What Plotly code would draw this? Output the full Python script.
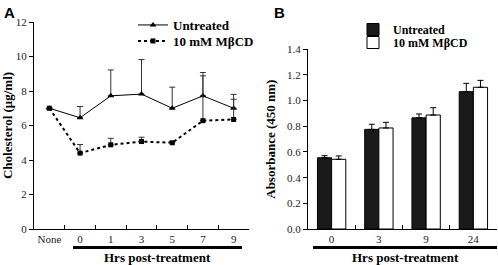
import plotly.graph_objects as go

# Panel A data
cats_a = ["None", "0", "1", "3", "5", "7", "9"]
untreated_a = [7.0, 6.45, 7.72, 7.82, 7.0, 7.72, 7.0]
untreated_a_err = [0, 0.65, 1.5, 2.0, 1.22, 1.35, 0.8]
mbcd_a = [7.0, 4.4, 4.88, 5.07, 5.0, 6.28, 6.35]
mbcd_a_err = [0, 0.5, 0.38, 0.25, 0.05, 2.6, 1.17]

# Panel B data
cats_b = ["0", "3", "9", "24"]
untreated_b = [0.555, 0.776, 0.866, 1.07]
untreated_b_err = [0.016, 0.04, 0.03, 0.065]
mbcd_b = [0.543, 0.787, 0.888, 1.104]
mbcd_b_err = [0.026, 0.044, 0.057, 0.054]

yticks_a = [0, 2, 4, 6, 8, 10, 12]
yticks_b = [0.0, 0.2, 0.4, 0.6, 0.8, 1.0, 1.2, 1.4]

serif = "Liberation Serif, Times New Roman, serif"
W, H = 498, 265

fig = go.Figure()

fig.add_trace(go.Scatter(
    x=cats_a, y=untreated_a, name="Untreated", mode="lines+markers",
    line=dict(color="black", width=1),
    marker=dict(symbol="triangle-up", size=6, color="black"),
    error_y=dict(type="data", array=untreated_a_err, arrayminus=[0]*7, symmetric=False,
                 color="#333", thickness=1, width=3),
    xaxis="x", yaxis="y", legend="legend"))
fig.add_trace(go.Scatter(
    x=cats_a, y=mbcd_a, name="10 mM M\u03b2CD", mode="lines+markers",
    line=dict(color="black", width=2, dash="dot"),
    marker=dict(symbol="square", size=5, color="black"),
    error_y=dict(type="data", array=mbcd_a_err, arrayminus=[0]*7, symmetric=False,
                 color="#333", thickness=1, width=3),
    xaxis="x", yaxis="y", legend="legend2"))

fig.add_trace(go.Bar(
    x=cats_b, y=untreated_b, name="Untreated",
    marker=dict(color="#1a1a1a", line=dict(color="black", width=1)),
    error_y=dict(type="data", array=untreated_b_err, arrayminus=[0]*4, symmetric=False,
                 color="black", thickness=1, width=3),
    xaxis="x2", yaxis="y2", legend="legend3"))
fig.add_trace(go.Bar(
    x=cats_b, y=mbcd_b, name="10 mM M\u03b2CD",
    marker=dict(color="white", line=dict(color="black", width=1)),
    error_y=dict(type="data", array=mbcd_b_err, arrayminus=[0]*4, symmetric=False,
                 color="black", thickness=1, width=3),
    xaxis="x2", yaxis="y2", legend="legend4"))

def px_x(p):
    return p / W

def px_y(p):
    return 1 - p / H

axis_common = dict(showline=True, linecolor="black", linewidth=1, showgrid=False,
                   zeroline=False, automargin=False,
                   tickfont=dict(family=serif, size=11, color="#222"))

def leg(xp, yp, size=13):
    return dict(x=px_x(xp), y=px_y(yp), xanchor="left", yanchor="top",
                bgcolor="rgba(0,0,0,0)", tracegroupgap=0, itemwidth=30,
                font=dict(family=serif, size=size, color="black", weight="bold"))

fig.update_layout(
    width=W, height=H, margin=dict(l=0, r=0, t=0, b=0),
    paper_bgcolor="white", plot_bgcolor="white",
    barmode="group", bargap=0.4, bargroupgap=0,
    xaxis=dict(domain=[px_x(34), px_x(249)], anchor="y", type="category",
               tickson="boundaries", ticks="inside", ticklen=4, tickcolor="black",
               tickangle=0, range=[-0.5, 6.5], **axis_common),
    yaxis=dict(domain=[px_y(229), px_y(22)], anchor="x", range=[0, 12],
               tickvals=yticks_a, ticks="outside", ticklen=4, tickcolor="black",
               title=dict(text="Cholesterol (\u03bcg/ml)", standoff=8,
                          font=dict(family=serif, size=13, color="black", weight="bold")),
               **axis_common),
    xaxis2=dict(domain=[px_x(308), px_x(497)], anchor="y2", type="category",
                tickson="boundaries", ticks="inside", ticklen=4, tickcolor="black",
                tickangle=0, range=[-0.5, 3.5], **axis_common),
    yaxis2=dict(domain=[px_y(229), px_y(49.3)], anchor="x2", range=[0, 1.4],
                tickvals=yticks_b, tickformat=".1f", ticks="outside", ticklen=4,
                tickcolor="black",
                title=dict(text="Absorbance (450 nm)", standoff=8,
                           font=dict(family=serif, size=13, color="black", weight="bold")),
                **axis_common),
    legend=leg(133, 10),
    legend2=leg(133, 26),
    legend3=leg(353, 15, 12),
    legend4=leg(353, 28, 12),
    showlegend=True,
)

# underline bars
fig.add_shape(type="line", xref="paper", yref="paper",
              x0=px_x(73), x1=px_x(242), y0=px_y(247.5), y1=px_y(247.5),
              line=dict(color="black", width=3))
fig.add_shape(type="line", xref="paper", yref="paper",
              x0=px_x(313), x1=px_x(497), y0=px_y(247.5), y1=px_y(247.5),
              line=dict(color="black", width=3))

annots = [
    dict(text="Hrs post-treatment", x=px_x(157), y=px_y(257.5)),
    dict(text="Hrs post-treatment", x=px_x(405), y=px_y(257.5)),
]
for a in annots:
    fig.add_annotation(text=a["text"], x=a["x"], y=a["y"], xref="paper", yref="paper",
                       showarrow=False, xanchor="center", yanchor="middle",
                       font=dict(family=serif, size=13, color="black", weight="bold"))

for lbl, xp in [("A", 2), ("B", 272)]:
    fig.add_annotation(text=lbl, x=px_x(xp), y=px_y(2), xref="paper", yref="paper",
                       showarrow=False, xanchor="left", yanchor="top",
                       font=dict(family="Liberation Sans, Arial, sans-serif", size=15,
                                 color="black", weight="bold"))

fig.write_html("out.html", config={"displayModeBar": False},
               post_script="document.body.style.margin='0';document.body.style.overflow='hidden';")
